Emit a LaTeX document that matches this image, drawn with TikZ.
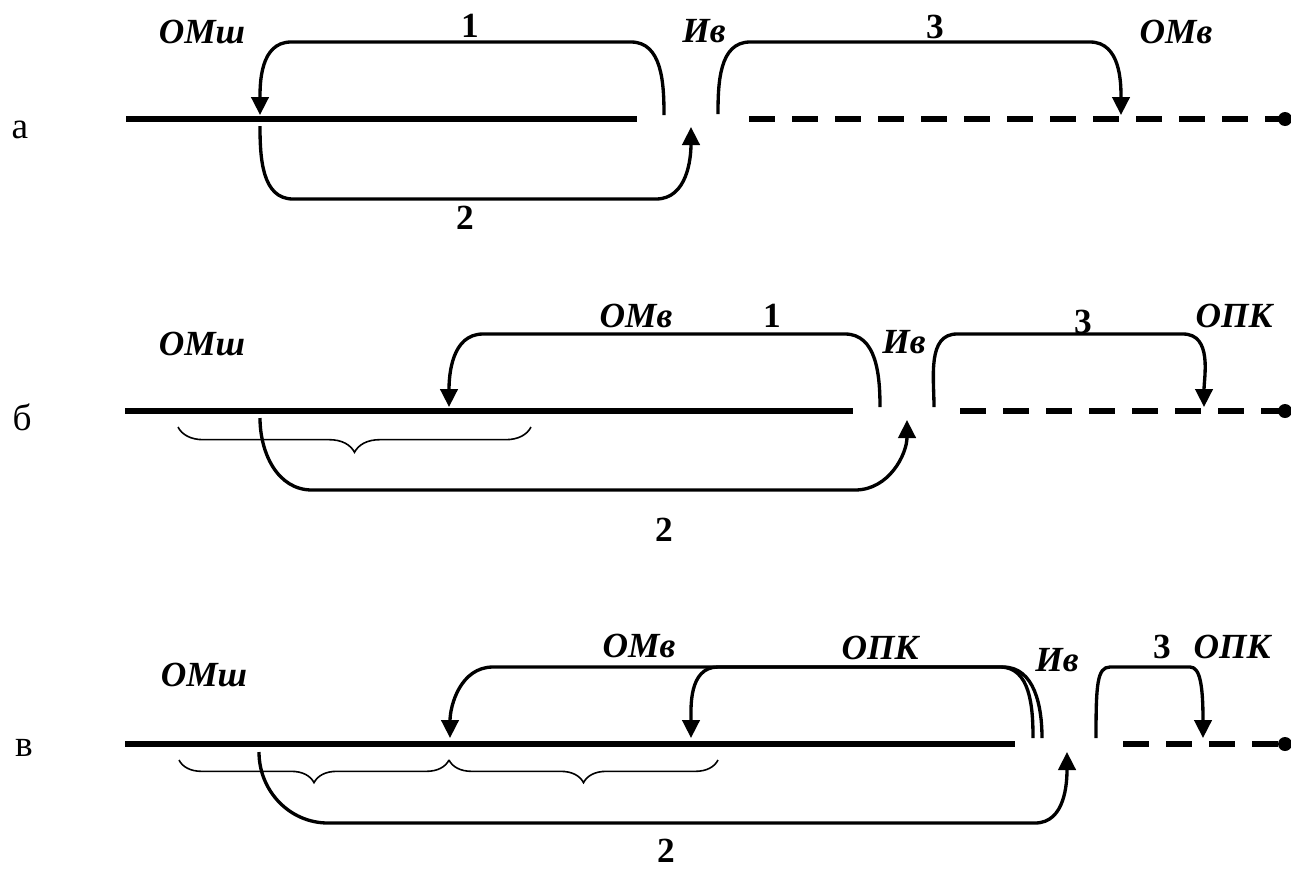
\documentclass[tikz,border=0pt]{standalone}
\usepackage{fontspec}
\setmainfont{Liberation Serif}
\usetikzlibrary{arrows.meta,decorations.pathreplacing}
\tikzset{
  mainline/.style={line width=4.9pt},
  dashline/.style={line width=4.6pt,dash pattern=on 19.5pt off 12.75pt},
  arcline/.style={line width=2.5pt},
  arcarrow/.style={arcline,-{Triangle[length=13.5pt,width=13pt]}},
  bracedeco/.style={decorate,decoration={brace,mirror,amplitude=#1},line width=1.2pt},
  lbl/.style={font=\fontsize{26.5}{30}\selectfont\bfseries\itshape,inner sep=0pt},
  num/.style={font=\fontsize{26.5}{30}\selectfont\bfseries,inner sep=0pt},
  rowlbl/.style={font=\fontsize{28}{32}\selectfont,inner sep=0pt},
  enddot/.style={fill=black,circle,inner sep=0pt,minimum size=10.5pt}
}
\begin{document}
\begin{tikzpicture}[x=0.75pt,y=-0.75pt]
\useasboundingbox (0,0) rectangle (1291,872);

% ---------------- row a ----------------
\node[rowlbl] (ra) at (20,130) {а};
\node[lbl] (a-omsh) at (202,32) {ОМш};
\node[num] (a-n1) at (470,26) {1};
\node[lbl] (a-iv) at (704,31) {Ив};
\node[num] (a-n3) at (935,27) {3};
\node[lbl] (a-omv) at (1176,32) {ОМв};
\node[num] (a-n2) at (465,218) {2};
\coordinate (a-s) at (126,119);
\coordinate (a-e) at (637,119);
\coordinate (a-d1) at (749,119);
\node[enddot] (a-dot) at (1285,119) {};
\draw[mainline] (a-s) -- (a-e);
\draw[dashline] (a-d1) -- (a-dot.center);
\coordinate (a1s) at (664,115);
\coordinate (a1t) at (260,115);
\draw[arcarrow] (a1s) to[out=90,in=0] (631,42) -- (291,42) to[out=180,in=90] (a1t);
\coordinate (a2s) at (260,126);
\coordinate (a2t) at (691,127);
\draw[arcarrow] (a2s) to[out=-90,in=180] (293,199) -- (656,199) to[out=0,in=-90] (a2t);
\coordinate (a3s) at (718,114);
\coordinate (a3t) at (1121,115);
\draw[arcarrow] (a3s) to[out=90,in=180] (750,42) -- (1090,42) to[out=0,in=90] (a3t);

% ---------------- row b ----------------
\node[rowlbl] (rb) at (22,417) {б};
\node[lbl] (b-omsh) at (202,344) {ОМш};
\node[lbl] (b-omv) at (636,316) {ОМв};
\node[num] (b-n1) at (772,316) {1};
\node[lbl] (b-iv) at (904,342) {Ив};
\node[num] (b-n3) at (1083,322) {3};
\node[lbl] (b-opk) at (1234,316) {ОПК};
\node[num] (b-n2) at (664,530) {2};
\coordinate (b-s) at (125,411);
\coordinate (b-e) at (853,411);
\coordinate (b-d1) at (960,411);
\node[enddot] (b-dot) at (1285,411) {};
\draw[mainline] (b-s) -- (b-e);
\draw[dashline] (b-d1) -- (b-dot.center);
\coordinate (b1s) at (880,407);
\coordinate (b1t) at (449,407);
\draw[arcarrow] (b1s) to[out=90,in=0] (845,334) -- (483,334) to[out=180,in=90] (b1t);
\coordinate (b2s) at (260,418);
\coordinate (b2t) at (907,420);
\draw[arcarrow] (b2s) to[out=-90,in=180] (312,490) -- (855,490) to[out=0,in=-90] (b2t);
\coordinate (b3s) at (934,407);
\coordinate (b3t) at (1204,407);
\draw[arcarrow] (b3s) to[out=90,in=180] (957,334) -- (1183,334) to[out=0,in=90] (b3t);
\coordinate (bb1) at (178,427);
\coordinate (bb2) at (531,427);
\draw[bracedeco=19pt] (bb1) -- (bb2);

% ---------------- row v ----------------
\node[rowlbl] (rv) at (24,748) {в};
\node[lbl] (v-omsh) at (204,675) {ОМш};
\node[lbl] (v-omv) at (639,646) {ОМв};
\node[lbl] (v-opk) at (880,648) {ОПК};
\node[lbl] (v-iv) at (1057,660) {Ив};
\node[num] (v-n3) at (1162,647) {3};
\node[lbl] (v-opk2) at (1232,647) {ОПК};
\node[num] (v-n2) at (666,851) {2};
\coordinate (v-s) at (125,744);
\coordinate (v-e) at (1015,744);
\coordinate (v-d1) at (1123,744);
\node[enddot] (v-dot) at (1285,744) {};
\draw[mainline] (v-s) -- (v-e);
\draw[dashline] (v-d1) -- (v-dot.center);
\coordinate (v1s) at (1033,738);
\coordinate (v1t) at (450,738);
\draw[arcarrow] (v1s) to[out=90,in=0] (1000,667) -- (493,667) to[out=180,in=90] (v1t);
\coordinate (v4s) at (1042,738);
\coordinate (v4t) at (691,738);
\draw[arcarrow] (v4s) to[out=90,in=0] (1003,667) -- (718,667) to[out=180,in=90] (v4t);
\coordinate (v2s) at (259,752);
\coordinate (v2t) at (1067,752);
\draw[arcarrow] (v2s) to[out=-90,in=180] (328,823) -- (1035,823) to[out=0,in=-90] (v2t);
\coordinate (v3s) at (1096,738);
\coordinate (v3t) at (1203,738);
\draw[arcarrow] (v3s) .. controls (1096,685) and (1097,667) .. (1110,667) -- (1190,667) .. controls (1200,667) and (1203,685) .. (v3t);
\coordinate (vb1) at (179,760);
\coordinate (vb2) at (449,760);
\coordinate (vb3) at (718,760);
\draw[bracedeco=17pt] (vb1) -- (vb2);
\draw[bracedeco=17pt] (vb2) -- (vb3);
\end{tikzpicture}
\end{document}
